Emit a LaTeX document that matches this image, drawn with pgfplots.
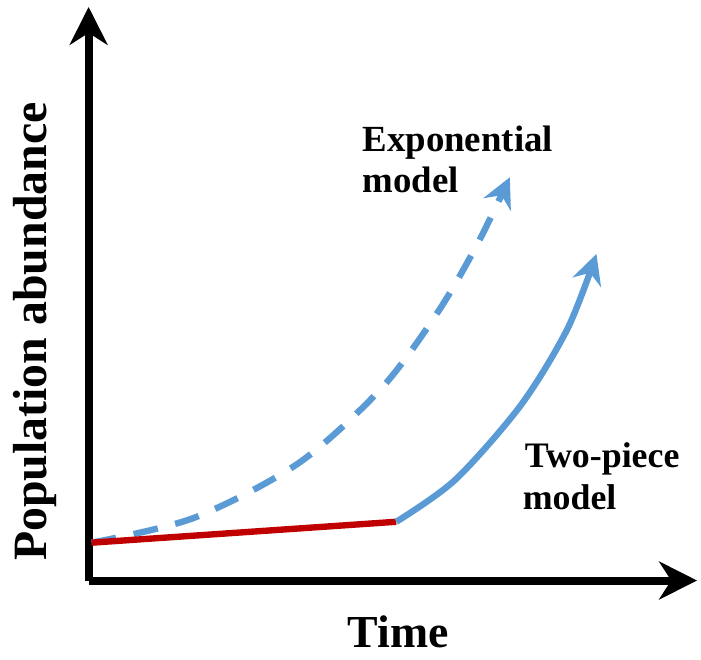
\documentclass[border=0pt]{standalone}
\usepackage{fontspec}
\setmainfont{Liberation Serif}
\usepackage{pgfplots}
\pgfplotsset{compat=1.18}
\usetikzlibrary{arrows.meta}
\definecolor{curveblue}{HTML}{5B9BD5}
\definecolor{linered}{HTML}{C00000}

\begin{document}
\begin{tikzpicture}
\begin{axis}[
  scale only axis,
  width=305.5pt, height=288pt,
  xmin=89, xmax=700, ymin=79, ymax=655,
  axis lines=left,
  axis line style={black, line width=4pt, -{Stealth[length=19pt, width=19pt, inset=6pt]}},
  xtick=\empty, ytick=\empty,
  clip=false,
]
% keep page at the reference proportions
\path (axis cs:0,0) rectangle (axis cs:701,662);

% exponential model (dashed)
\addplot[curveblue, line width=3.2pt, smooth, dash pattern=on 12.5pt off 9pt,
  -{Stealth[length=15pt, width=15pt, inset=5pt]}] coordinates {
  (92,117) (195,142) (300,197) (383,272) (440,349) (480,418) (512,484)
};

% two-piece model: linear part
\addplot[linered, line width=3.2pt] coordinates {(92,117) (398,138)};

% two-piece model: exponential part
\addplot[curveblue, line width=3.2pt, smooth,
  -{Stealth[length=15pt, width=15pt, inset=5pt]}] coordinates {
  (398,138) (457,180) (523,255) (570,332) (599,407)
};

\node[anchor=base west, font=\fontsize{18.5}{20}\selectfont\bfseries] at (axis cs:357,510) {Exponential};
\node[anchor=base west, font=\fontsize{18.5}{20}\selectfont\bfseries] at (axis cs:357,469) {model};
\node[anchor=base west, font=\fontsize{18}{20}\selectfont\bfseries] at (axis cs:520,192) {Two-piece};
\node[anchor=base west, font=\fontsize{18}{20}\selectfont\bfseries] at (axis cs:518,150) {model};

\node[anchor=base, rotate=90, font=\fontsize{24}{26}\selectfont\bfseries] at (axis cs:47,329) {Population abundance};
\node[anchor=base, font=\fontsize{23}{25}\selectfont\bfseries] at (axis cs:400,12) {Time};
\end{axis}
\end{tikzpicture}
\end{document}
